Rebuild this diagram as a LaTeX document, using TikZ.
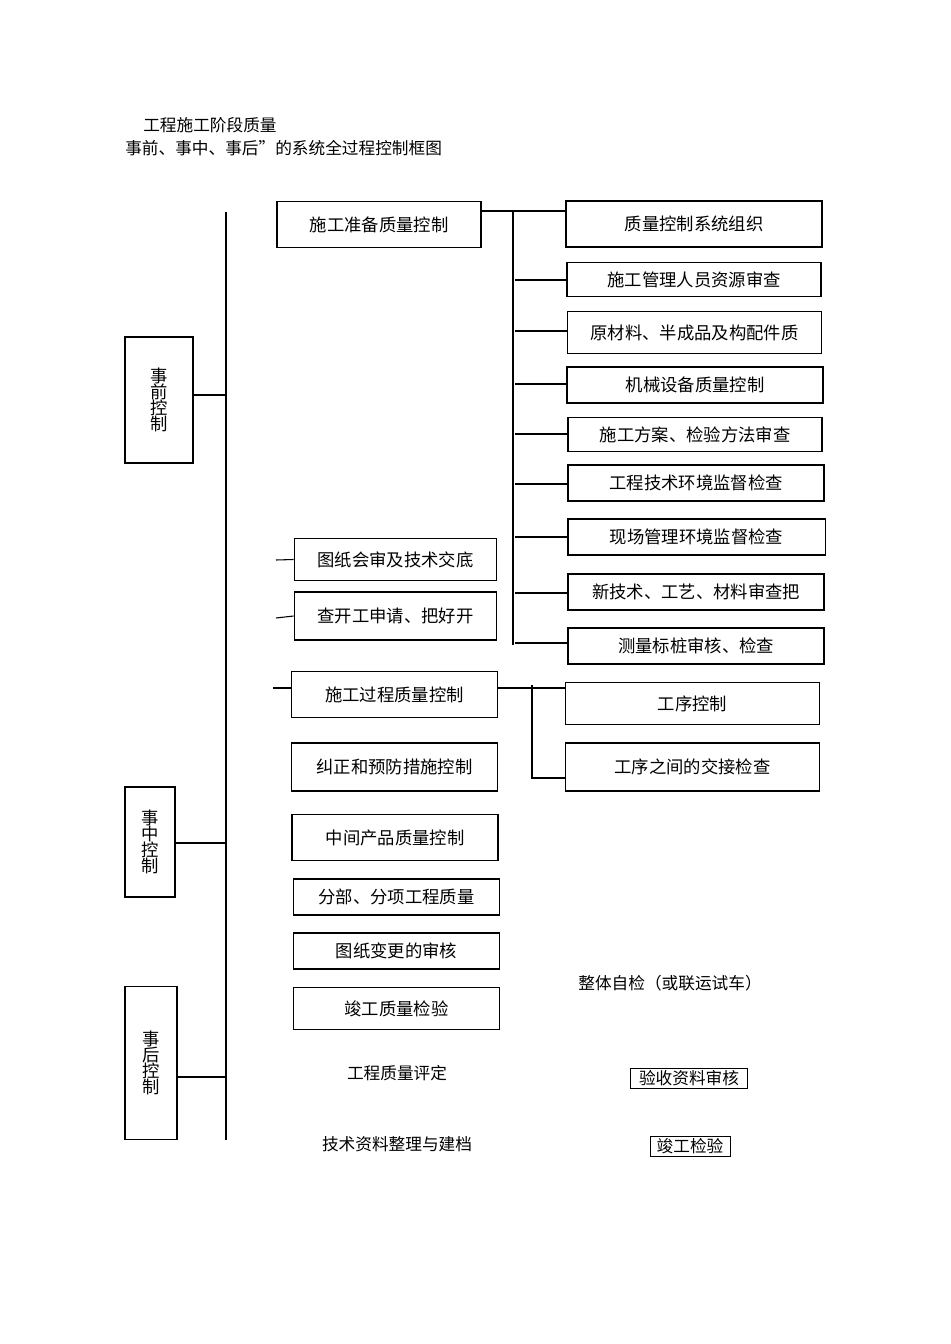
\documentclass[tikz,border=0pt]{standalone}
\usepackage{fontspec}
\setmainfont{Noto Sans CJK SC}
\begin{document}
\begin{tikzpicture}[x=0.75pt,y=-0.75pt,
  bx/.style={draw,line width=0.8pt,inner sep=0pt,font=\fontsize{13}{15}\selectfont},
  lb/.style={inner sep=0pt,font=\fontsize{12.5}{15}\selectfont},
  ln/.style={line width=0.8pt}]
\useasboundingbox (0,0) rectangle (950,1344);
\node[lb,anchor=west] (t1) at (143,125) {工程施工阶段质量};
\node[lb,anchor=west] (t2) at (125,148) {事前、事中、事后”的系统全过程控制框图};
% main line
\coordinate (mT) at (226,212); \coordinate (mB) at (226,1140);
\draw[ln] (mT)--(mB);
% left boxes
\node[bx,line width=1.4pt,minimum width=51pt,minimum height=94.5pt,align=center] (pre) at (159,400) {事\\[-3pt]前\\[-3pt]控\\[-3pt]制};
\node[bx,line width=1.2pt,minimum width=37.5pt,minimum height=82.5pt,align=center] (mid) at (150,842) {事\\[-3pt]中\\[-3pt]控\\[-3pt]制};
\node[bx,line width=1.4pt,minimum width=39pt,minimum height=114.8pt,align=center] (post) at (151,1063) {事\\[-3pt]后\\[-3pt]控\\[-3pt]制};
\draw[ln] (pre.east|-0,395)--(226,395);
\draw[line width=1.4pt] (mid.east|-0,843)--(226,843);
\draw[ln] (post.east|-0,1077)--(226,1077);
% column 2
\node[bx,minimum width=153pt,minimum height=34pt] (a) at (379,224.5) {施工准备质量控制};
\node[bx,minimum width=152pt,minimum height=32pt] (b) at (395.5,559.5) {图纸会审及技术交底};
\node[bx,minimum width=152pt,minimum height=36pt] (c) at (395.5,616) {查开工申请、把好开};
\node[bx,minimum width=154pt,minimum height=35pt] (d) at (394.5,694.5) {施工过程质量控制};
\node[bx,minimum width=154pt,minimum height=36pt] (e) at (394.5,767) {纠正和预防措施控制};
\node[bx,minimum width=154.5pt,minimum height=35pt] (f) at (395,837.5) {中间产品质量控制};
\node[bx,minimum width=154pt,minimum height=27pt] (g) at (396.5,897) {分部、分项工程质量};
\node[bx,minimum width=154pt,minimum height=27pt] (h) at (396.5,951) {图纸变更的审核};
\node[bx,minimum width=154pt,minimum height=32pt] (i) at (396.5,1008.5) {竣工质量检验};
\node[lb] (j) at (397,1073) {工程质量评定};
\node[lb] (k) at (397,1144) {技术资料整理与建档};
\draw[ln] (276,560)--(b.west);
\draw[ln] (276,618)--(c.west);
\draw[ln] (273,688)--(d.west|-0,688);
% right group 1
\coordinate (v1) at (513,211); \coordinate (v2) at (513,645);
\draw[ln] (v1)--(v2);
\node[bx,minimum width=192pt,minimum height=34.5pt] (r1) at (694,224) {质量控制系统组织};
\node[bx,minimum width=190.5pt,minimum height=26pt] (r2) at (694,279.5) {施工管理人员资源审查};
\node[bx,minimum width=191pt,minimum height=31pt] (r3) at (694.5,332.5) {原材料、半成品及构配件质};
\node[bx,minimum width=192pt,minimum height=27pt] (r4) at (695,385) {机械设备质量控制};
\node[bx,minimum width=190.5pt,minimum height=26pt] (r5) at (695,434.5) {施工方案、检验方法审查};
\node[bx,minimum width=192pt,minimum height=27pt] (r6) at (696,483) {工程技术环境监督检查};
\node[bx,minimum width=192.8pt,minimum height=27pt] (r7) at (696.5,537) {现场管理环境监督检查};
\node[bx,minimum width=192pt,minimum height=27pt] (r8) at (696,592) {新技术、工艺、材料审查把};
\node[bx,minimum width=192pt,minimum height=27pt] (r9) at (696,646) {测量标桩审核、检查};
\draw[ln] (a.east|-0,211)--(r1.west|-0,211);
\draw[ln] (515,280)--(r2.west|-0,280);
\draw[ln] (515,331)--(r3.west|-0,331);
\draw[ln] (515,384)--(r4.west|-0,384);
\draw[ln] (515,434)--(r5.west|-0,434);
\draw[ln] (515,484)--(r6.west|-0,484);
\draw[ln] (515,537)--(r7.west|-0,537);
\draw[ln] (515,593)--(r8.west|-0,593);
\draw[ln] (515,643)--(r9.west|-0,643);
% right group 2
\node[bx,minimum width=191pt,minimum height=31pt] (s1) at (692.5,703.5) {工序控制};
\node[bx,minimum width=191pt,minimum height=36pt] (s2) at (692.5,767) {工序之间的交接检查};
\draw[ln] (d.east|-0,688)--(565,688);
\draw[ln] (532,685)--(532,778)--(s2.west|-0,778);
\node[lb] (u) at (670,983) {整体自检（或联运试车）};
\node[draw,line width=0.6pt,inner sep=1pt,minimum width=88pt,minimum height=15pt,font=\fontsize{12.5}{15}\selectfont] (v) at (689,1078.5) {验收资料审核};
\node[draw,line width=0.6pt,inner sep=1pt,minimum width=60pt,minimum height=15pt,font=\fontsize{12.5}{15}\selectfont] (w) at (690,1146) {竣工检验};
\end{tikzpicture}
\end{document}
